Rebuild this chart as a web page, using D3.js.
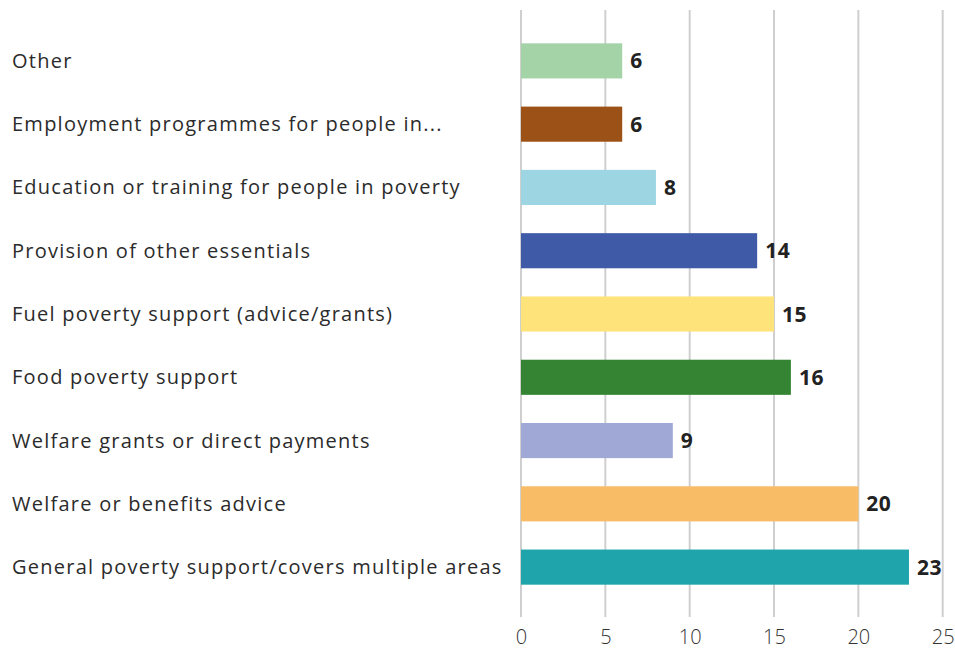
<!DOCTYPE html>
<html>
<head>
<meta charset="utf-8">
<script src="https://cdn.jsdelivr.net/npm/d3@7"></script>
<style>
  html, body { margin: 0; padding: 0; background: #fff; }
  svg { display: block; }
</style>
</head>
<body>
<svg id="chart" width="955" height="651"></svg>
<script>
const categories = [
  "Other",
  "Employment programmes for people in...",
  "Education or training for people in poverty",
  "Provision of other essentials",
  "Fuel poverty support (advice/grants)",
  "Food poverty support",
  "Welfare grants or direct payments",
  "Welfare or benefits advice",
  "General poverty support/covers multiple areas"
];
const values = [6, 6, 8, 14, 15, 16, 9, 20, 23];
const colors = [
  "#a3d3a7", "#9c5216", "#9dd6e2", "#3f5ba8", "#fee37a",
  "#348434", "#a0a8d6", "#f8bb66", "#1fa4ab"
];
const tickValues = [0, 5, 10, 15, 20, 25];

const data = categories.map((c, i) => ({ category: c, value: values[i], color: colors[i] }));

const svg = d3.select("#chart");
const fontFamily = "'Open Sans', 'Noto Sans', sans-serif";

const x = d3.scaleLinear().domain([0, 25]).range([521, 942.7]);
const y = d3.scaleBand().domain(categories).range([29.4, 598.6]).paddingInner(0.445).paddingOuter(0.22);

// vertical grid lines
svg.append("g")
  .selectAll("line")
  .data(tickValues)
  .join("line")
  .attr("x1", d => x(d)).attr("x2", d => x(d))
  .attr("y1", 10).attr("y2", 617)
  .attr("stroke", "#cfcfcf")
  .attr("stroke-width", 2);

// x axis tick labels
const xAxis = d3.axisBottom(x).tickValues(tickValues).tickSize(0).tickPadding(0);
const gx = svg.append("g").attr("transform", "translate(0,630)").call(xAxis);
gx.select(".domain").remove();
gx.selectAll("text")
  .attr("font-family", fontFamily)
  .attr("font-size", 20)
  .attr("font-weight", 300)
  .attr("fill", "#333")
  .attr("dy", "0.71em");

// category labels
svg.append("g")
  .selectAll("text")
  .data(data)
  .join("text")
  .attr("x", 12)
  .attr("y", d => y(d.category) + y.bandwidth() / 2)
  .attr("dy", "0.35em")
  .attr("font-family", fontFamily)
  .attr("font-size", 20)
  .attr("letter-spacing", "1.25px")
  .attr("fill", "#2b2b2b")
  .text(d => d.category);

// bars
svg.append("g")
  .selectAll("rect")
  .data(data)
  .join("rect")
  .attr("x", x(0))
  .attr("y", d => y(d.category))
  .attr("width", d => x(d.value) - x(0))
  .attr("height", y.bandwidth())
  .attr("fill", d => d.color);

// value labels
svg.append("g")
  .selectAll("text")
  .data(data)
  .join("text")
  .attr("x", d => x(d.value) + 8)
  .attr("y", d => y(d.category) + y.bandwidth() / 2)
  .attr("dy", "0.36em")
  .attr("font-family", fontFamily)
  .attr("font-size", 21)
  .attr("font-weight", 700)
  .attr("letter-spacing", "0.5px")
  .attr("fill", "#222")
  .text(d => d.value);
</script>
</body>
</html>
